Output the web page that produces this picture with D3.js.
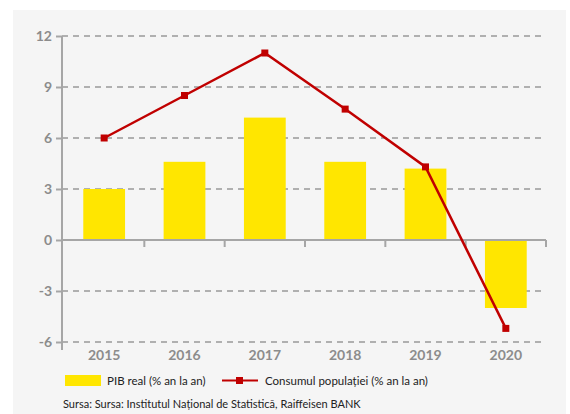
<!DOCTYPE html>
<html>
<head>
<meta charset="utf-8">
<script src="https://cdn.jsdelivr.net/npm/d3@7"></script>
<style>
  body { margin: 0; background: #fff; }
  svg { display: block; font-family: Lato, "DejaVu Sans", sans-serif; }
</style>
</head>
<body>
<div id="chart"></div>
<script>
const years = ["2015", "2016", "2017", "2018", "2019", "2020"];
const pibReal = [3.0, 4.6, 7.2, 4.6, 4.2, -4.0];
const consum = [6.0, 8.5, 11.0, 7.7, 4.3, -5.2];
const yTicks = [-6, -3, 0, 3, 6, 9, 12];

const width = 570, height = 414;
const margin = {left: 62, right: 24, top: 36, bottom: 72};

const svg = d3.select("#chart").append("svg")
    .attr("width", width)
    .attr("height", height);

// grey panel
svg.append("rect")
    .attr("x", 13).attr("y", 10)
    .attr("width", 553).attr("height", 404)
    .attr("fill", "#f5f5f5");

const x = d3.scaleBand()
    .domain(years)
    .range([margin.left + 2, width - margin.right])
    .paddingInner(0.48)
    .paddingOuter(0.24);

const y = d3.scaleLinear()
    .domain([-6, 12])
    .range([height - margin.bottom, margin.top]);

// dashed grid
svg.append("g")
  .selectAll("line")
  .data(yTicks.filter(d => d !== 0))
  .enter()
  .append("line")
    .attr("x1", margin.left)
    .attr("x2", width - margin.right)
    .attr("y1", d => y(d))
    .attr("y2", d => y(d))
    .attr("stroke", "#999")
    .attr("stroke-width", 1.5)
    .attr("stroke-dasharray", "6,5");

// y axis
const yAxis = svg.append("g")
    .attr("transform", `translate(${margin.left},0)`)
    .call(d3.axisLeft(y).tickValues(yTicks).tickSize(6).tickPadding(4).tickFormat(d => String(d)));
yAxis.select(".domain")
    .attr("stroke", "#a6a6a6").attr("stroke-width", 2)
    .attr("d", `M0,${y(12)}V${y(-6) + 8}`);
yAxis.selectAll(".tick line").attr("stroke", "#a6a6a6").attr("stroke-width", 2);
yAxis.selectAll(".tick text")
    .attr("fill", "#8c8c8c")
    .attr("font-family", "Lato, sans-serif")
    .attr("font-size", 14)
    .attr("font-weight", "bold");

// bars
svg.append("g")
  .selectAll("rect")
  .data(years)
  .enter()
  .append("rect")
    .attr("x", d => x(d))
    .attr("width", x.bandwidth())
    .attr("y", (d, i) => y(Math.max(0, pibReal[i])))
    .attr("height", (d, i) => Math.abs(y(pibReal[i]) - y(0)))
    .attr("fill", "#ffe600");

// zero axis with category ticks
const x0 = svg.append("g");
x0.append("line")
    .attr("x1", margin.left).attr("x2", width - margin.right)
    .attr("y1", y(0)).attr("y2", y(0))
    .attr("stroke", "#a6a6a6").attr("stroke-width", 2);
const step = x.step();
x0.selectAll(".bt")
  .data(d3.range(1, years.length + 1))
  .enter()
  .append("line")
    .attr("x1", i => x.range()[0] + i * step)
    .attr("x2", i => x.range()[0] + i * step)
    .attr("y1", y(0)).attr("y2", y(0) + 7)
    .attr("stroke", "#a6a6a6").attr("stroke-width", 2);

// line
const line = d3.line()
    .x((d, i) => x(years[i]) + x.bandwidth() / 2)
    .y(d => y(d));

svg.append("path")
    .datum(consum)
    .attr("d", line)
    .attr("fill", "none")
    .attr("stroke", "#c00000")
    .attr("stroke-width", 2.5);

svg.append("g")
  .selectAll("rect")
  .data(consum)
  .enter()
  .append("rect")
    .attr("x", (d, i) => x(years[i]) + x.bandwidth() / 2 - 3.5)
    .attr("y", d => y(d) - 3.5)
    .attr("width", 7).attr("height", 7)
    .attr("fill", "#c00000");

// x labels
svg.append("g")
  .selectAll("text")
  .data(years)
  .enter()
  .append("text")
    .attr("x", d => x(d) + x.bandwidth() / 2)
    .attr("y", 360)
    .attr("text-anchor", "middle")
    .attr("fill", "#8c8c8c")
    .attr("font-size", 14)
    .attr("font-weight", "bold")
    .text(d => d);

// legend
const legend = svg.append("g").attr("font-size", 11.5).attr("fill", "#222");
legend.append("rect")
    .attr("x", 65).attr("y", 375).attr("width", 36).attr("height", 11)
    .attr("fill", "#ffe600");
legend.append("text").attr("x", 107).attr("y", 385).text("PIB real (% an la an)");
legend.append("line")
    .attr("x1", 222).attr("x2", 258).attr("y1", 380.5).attr("y2", 380.5)
    .attr("stroke", "#c00000").attr("stroke-width", 2);
legend.append("rect")
    .attr("x", 236).attr("y", 377).attr("width", 7).attr("height", 7)
    .attr("fill", "#c00000");
legend.append("text").attr("x", 265).attr("y", 385).text("Consumul populației (% an la an)");

svg.append("text")
    .attr("x", 63).attr("y", 408)
    .attr("font-size", 11)
    .attr("fill", "#222")
    .text("Sursa: Sursa: Institutul Național de Statistică, Raiffeisen BANK");
</script>
</body>
</html>
